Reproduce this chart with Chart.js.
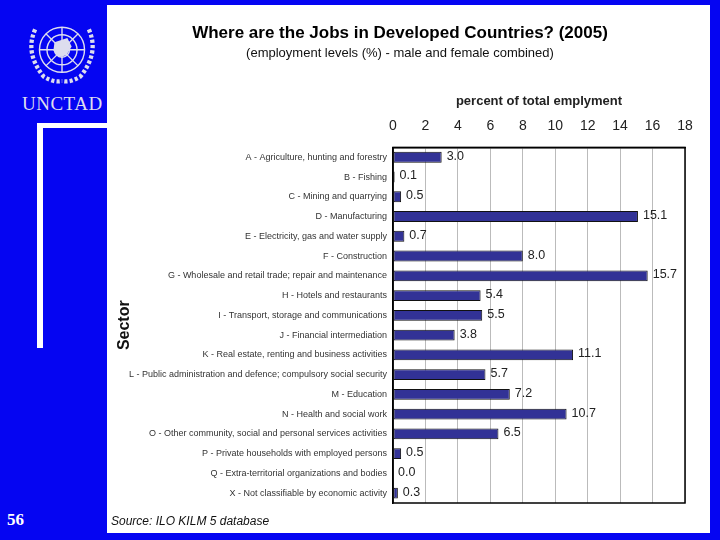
<!DOCTYPE html>
<html lang="en">
<head>
<meta charset="UTF-8">
<title>Where are the Jobs in Developed Countries? (2005)</title>
<script src="https://cdn.jsdelivr.net/npm/chart.js"></script>
<style>
    body { margin: 0; width: 720px; height: 540px; background: #0505f2; position: relative; overflow: hidden; font-family: Arial, "Liberation Sans", sans-serif; }
    #panel { position: absolute; left: 107px; top: 5px; width: 603px; height: 528px; background: #fff; }
    #chartBox { position: absolute; left: 0; top: 0; width: 603px; height: 528px; }
    #source { position: absolute; left: 4px; top: 509px; font-style: italic; font-size: 12px; color: #111; }
    #unctad { position: absolute; left: 22px; top: 93px; font-family: "Liberation Serif", "DejaVu Serif", serif; font-size: 19px; color: #dde; letter-spacing: 0.5px; }
    #pageNo { position: absolute; left: 7px; top: 510px; font-family: "Liberation Serif", serif; font-weight: bold; font-size: 17px; color: #fff; }
    .wline { position: absolute; background: #fff; }
    #logo { position: absolute; left: 18px; top: 14px; }
</style>
</head>
<body>

<svg id="logo" width="88" height="78" viewBox="0 0 82 72">
    <g fill="none" stroke="#dde" stroke-width="1.3">
        <circle cx="41" cy="33" r="21"/>
        <circle cx="41" cy="33" r="14"/>
        <circle cx="41" cy="33" r="7"/>
        <line x1="20" y1="33" x2="62" y2="33"/>
        <line x1="41" y1="12" x2="41" y2="54"/>
        <line x1="26" y1="18" x2="56" y2="48"/>
        <line x1="56" y1="18" x2="26" y2="48"/>
    </g>
    <path d="M34 26 L46 22 L50 30 L45 38 L38 40 L33 34 Z" fill="#dde"/>
    <g fill="none" stroke="#dde" stroke-width="4" stroke-dasharray="3 2">
        <path d="M16 14 Q6 36 24 58 Q34 64 41 62"/>
        <path d="M66 14 Q76 36 58 58 Q48 64 41 62"/>
    </g>
</svg>
<div id="unctad">UNCTAD</div>
<div class="wline" style="left:37px; top:123px; width:70px; height:5px;"></div>
<div class="wline" style="left:37px; top:123px; width:6px; height:225px;"></div>
<div id="pageNo">56</div>

<div id="panel">
    <div id="chartBox"><canvas id="jobsChart"></canvas></div>
    <div id="source">Source: ILO KILM 5 database</div>
</div>

<script>
const sectors = [
    'A - Agriculture, hunting and forestry',
    'B - Fishing',
    'C - Mining and quarrying',
    'D - Manufacturing',
    'E - Electricity, gas and water supply',
    'F - Construction',
    'G - Wholesale and retail trade; repair and maintenance',
    'H - Hotels and restaurants',
    'I - Transport, storage and communications',
    'J - Financial intermediation',
    'K - Real estate, renting and business activities',
    'L - Public administration and defence; compulsory social security',
    'M - Education',
    'N - Health and social work',
    'O - Other community, social and personal services activities',
    'P - Private households with employed persons',
    'Q - Extra-territorial organizations and bodies',
    'X - Not classifiable by economic activity'
];
const employment = [3.0, 0.1, 0.5, 15.1, 0.7, 8.0, 15.7, 5.4, 5.5, 3.8, 11.1, 5.7, 7.2, 10.7, 6.5, 0.5, 0.0, 0.3];
const xMin = 0, xMax = 18, xStep = 2;

// value labels at the end of each bar
const valueLabels = {
    id: 'valueLabels',
    afterDatasetsDraw(chart) {
        const ctx = chart.ctx;
        const meta = chart.getDatasetMeta(0);
        ctx.save();
        ctx.font = '12.5px Arial';
        ctx.fillStyle = '#222';
        ctx.textBaseline = 'middle';
        meta.data.forEach((bar, i) => {
            ctx.fillText(employment[i].toFixed(1), bar.x + 5, bar.y - 1);
        });
        ctx.restore();
    }
};

new Chart(document.getElementById('jobsChart'), {
    type: 'bar',
    data: {
        labels: sectors,
        datasets: [{
            data: employment,
            backgroundColor: '#323296',
            borderColor: '#111',
            borderWidth: 1,
            borderSkipped: false,
            barPercentage: 0.55,
            categoryPercentage: 1.0
        }]
    },
    options: {
        indexAxis: 'y',
        responsive: true,
        maintainAspectRatio: false,
        animation: false,
        layout: { padding: { left: 8, right: 25, top: 0, bottom: 30 } },
        plugins: {
            legend: { display: false },
            tooltip: { enabled: false },
            title: {
                display: true,
                text: 'Where are the Jobs in Developed Countries? (2005)',
                color: '#000',
                font: { family: 'Arial', size: 17, weight: 'bold' },
                padding: { top: 18, bottom: 2 }
            },
            subtitle: {
                display: true,
                text: '(employment levels (%) - male and female combined)',
                color: '#111',
                font: { family: 'Arial', size: 13 },
                padding: { top: 0, bottom: 33 }
            }
        },
        scales: {
            x: {
                position: 'top',
                min: xMin,
                max: xMax,
                ticks: { stepSize: xStep, color: '#222', font: { family: 'Arial', size: 14 }, padding: 4 },
                grid: { color: '#bbb', drawTicks: true, tickLength: 9, tickColor: 'rgba(0,0,0,0)' },
                border: { color: '#000', width: 1.5 },
                title: {
                    display: true,
                    text: 'percent of total emplyment',
                    color: '#222',
                    font: { family: 'Arial', size: 13, weight: 'bold' },
                    padding: { top: 0, bottom: 4 }
                }
            },
            y: {
                ticks: { color: '#333', font: { family: 'Arial', size: 9 }, padding: 6, autoSkip: false },
                grid: { display: false, drawTicks: false },
                border: { color: '#000', width: 1.5 },
                title: {
                    display: true,
                    text: 'Sector',
                    color: '#111',
                    font: { family: 'Arial', size: 16, weight: 'bold' },
                    padding: 0
                },
                afterFit(axis) { axis.width = 278; }
            }
        }
    },
    plugins: [valueLabels, {
        id: 'frame',
        afterDraw(chart) {
            const a = chart.chartArea, ctx = chart.ctx;
            ctx.save();
            ctx.strokeStyle = '#000';
            ctx.lineWidth = 1.5;
            ctx.strokeRect(a.left, a.top, a.right - a.left, a.bottom - a.top);
            ctx.restore();
        }
    }]
});
</script>
</body>
</html>
